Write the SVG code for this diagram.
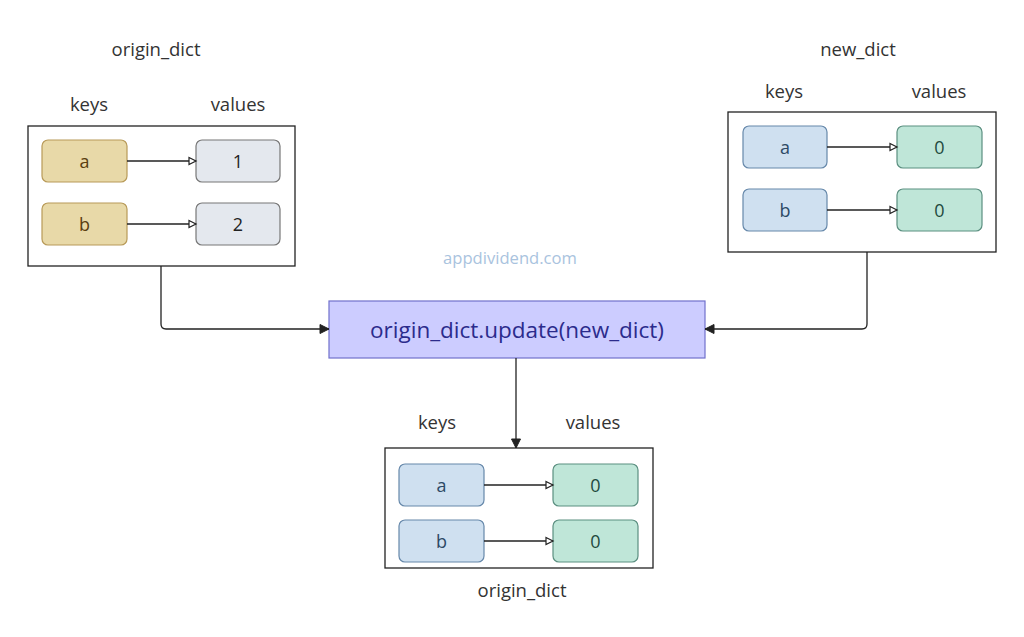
<svg xmlns="http://www.w3.org/2000/svg" width="1024" height="637" viewBox="0 0 1024 637">
<defs>
<style>
text{font-family:"Open Sans","Noto Sans",sans-serif;text-anchor:middle;dominant-baseline:central}
.lbl{font-size:18.5px;fill:#333}
.cont{fill:#fff;stroke:#222;stroke-width:1.3}
.kY{fill:#e8d9a8;stroke:#b89a58;stroke-width:1.2}
.kB{fill:#cfe0f0;stroke:#6688aa;stroke-width:1.2}
.vG{fill:#e4e8ee;stroke:#777;stroke-width:1.2}
.vT{fill:#bfe6d8;stroke:#5b8f80;stroke-width:1.2}
.t{font-size:18px}
.tY{fill:#5a4010}
.tB{fill:#2d4a66}
.tG{fill:#222}
.tT{fill:#1f4a40}
.ln{fill:none;stroke:#222;stroke-width:1.3}
</style>
<marker id="open" markerWidth="10" markerHeight="10" refX="8" refY="5" orient="auto" markerUnits="userSpaceOnUse">
<path d="M1,1.5 L8,5 L1,8.5 Z" fill="#fff" stroke="#222" stroke-width="1.2"/>
</marker>
<marker id="fill" markerWidth="12" markerHeight="12" refX="10" refY="6" orient="auto" markerUnits="userSpaceOnUse">
<path d="M1,1.5 L10,6 L1,10.5 Z" fill="#222" stroke="#222" stroke-width="1"/>
</marker>
</defs>
<rect width="1024" height="637" fill="#fff"/>

<g id="labels">
<text class="lbl" x="156" y="48">origin_dict</text>
<text class="lbl" x="89" y="103">keys</text>
<text class="lbl" x="238" y="103">values</text>
<text class="lbl" x="858" y="48">new_dict</text>
<text class="lbl" x="784" y="90">keys</text>
<text class="lbl" x="939" y="90">values</text>
<text x="510" y="257" style="font-size:16.6px;fill:#a9c3de">appdividend.com</text>
<text class="lbl" x="437" y="421">keys</text>
<text class="lbl" x="593" y="421">values</text>
<text class="lbl" x="522" y="589">origin_dict</text>
</g>

<g id="origin_dict">
<rect class="cont" x="28" y="126" width="267" height="140"/>
<g id="o_a"><rect class="kY" x="42" y="140" width="85" height="42" rx="6"/><text class="t tY" x="84.5" y="161">a</text></g>
<g id="o_1"><rect class="vG" x="196" y="140" width="84" height="42" rx="6"/><text class="t tG" x="238" y="161">1</text></g>
<g id="o_b"><rect class="kY" x="42" y="203" width="85" height="42" rx="6"/><text class="t tY" x="84.5" y="224">b</text></g>
<g id="o_2"><rect class="vG" x="196" y="203" width="84" height="42" rx="6"/><text class="t tG" x="238" y="224">2</text></g>
</g>

<g id="new_dict">
<rect class="cont" x="728" y="112" width="268" height="140"/>
<g id="n_a"><rect class="kB" x="743" y="126" width="84" height="42" rx="6"/><text class="t tB" x="785" y="147">a</text></g>
<g id="n_0a"><rect class="vT" x="897" y="126" width="85" height="42" rx="6"/><text class="t tT" x="939.5" y="147">0</text></g>
<g id="n_b"><rect class="kB" x="743" y="189" width="84" height="42" rx="6"/><text class="t tB" x="785" y="210">b</text></g>
<g id="n_0b"><rect class="vT" x="897" y="189" width="85" height="42" rx="6"/><text class="t tT" x="939.5" y="210">0</text></g>
</g>

<g id="update">
<rect x="329" y="301" width="376" height="57" fill="#ccccff" stroke="#7070cc" stroke-width="1.2"/>
<text x="517" y="329" style="font-size:22.5px;fill:#2b2b8c">origin_dict.update(new_dict)</text>
</g>

<g id="result">
<rect class="cont" x="385" y="448" width="268" height="120"/>
<g id="r_a"><rect class="kB" x="399" y="464" width="85" height="42" rx="6"/><text class="t tB" x="441.5" y="485">a</text></g>
<g id="r_0a"><rect class="vT" x="553" y="464" width="85" height="42" rx="6"/><text class="t tT" x="595.5" y="485">0</text></g>
<g id="r_b"><rect class="kB" x="399" y="520" width="85" height="42" rx="6"/><text class="t tB" x="441.5" y="541">b</text></g>
<g id="r_0b"><rect class="vT" x="553" y="520" width="85" height="42" rx="6"/><text class="t tT" x="595.5" y="541">0</text></g>
</g>

<g id="connectors">
<path class="ln" d="M127,161 H196" marker-end="url(#open)"/>
<path class="ln" d="M127,224 H196" marker-end="url(#open)"/>
<path class="ln" d="M827,147 H897" marker-end="url(#open)"/>
<path class="ln" d="M827,210 H897" marker-end="url(#open)"/>
<path class="ln" d="M484,485 H553" marker-end="url(#open)"/>
<path class="ln" d="M484,541 H553" marker-end="url(#open)"/>
<path class="ln" d="M161,266 V324 Q161,329 166,329 H329" marker-end="url(#fill)"/>
<path class="ln" d="M867,252 V324 Q867,329 862,329 H705" marker-end="url(#fill)"/>
<path class="ln" d="M516,358 V448" marker-end="url(#fill)"/>
</g>
</svg>
